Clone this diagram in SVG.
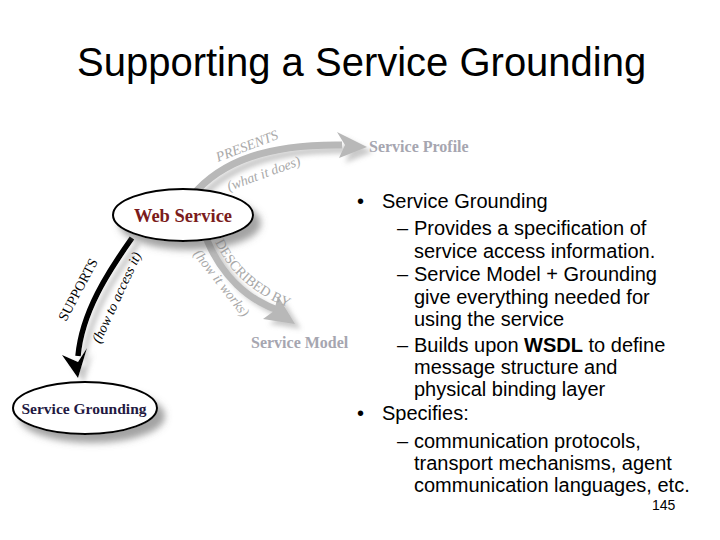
<svg xmlns="http://www.w3.org/2000/svg" width="720" height="540" viewBox="0 0 720 540">
<defs>
<style>
.title{font-family:"Liberation Sans",Arial,sans-serif;font-size:40px;fill:#000}
.body{font-family:"Liberation Sans",Arial,sans-serif;font-size:20px;fill:#000}
.node{fill:#fff;stroke:#000;stroke-width:2}
.nlabel{font-family:"Liberation Serif","Times New Roman",serif;font-weight:bold;text-anchor:middle}
.glabel{font-family:"Liberation Serif","Times New Roman",serif;font-weight:bold;fill:#a6a6b0}
.elab{font-family:"Liberation Serif","Times New Roman",serif;font-size:14px}
.it{font-style:italic}
.gray{fill:#a8a8a8}
.blk{fill:#000}
</style>
<filter id="sh" x="-30%" y="-30%" width="160%" height="180%">
<feGaussianBlur in="SourceAlpha" stdDeviation="3.5"/>
<feOffset dx="7" dy="8" result="b"/>
<feFlood flood-color="#666" flood-opacity="0.6"/>
<feComposite in2="b" operator="in"/>
<feMerge><feMergeNode/><feMergeNode in="SourceGraphic"/></feMerge>
</filter>
<filter id="ash" x="-30%" y="-30%" width="160%" height="160%">
<feGaussianBlur in="SourceAlpha" stdDeviation="2.5"/>
<feOffset dx="6" dy="5" result="b"/>
<feFlood flood-color="#888" flood-opacity="0.45"/>
<feComposite in2="b" operator="in"/>
<feMerge><feMergeNode/><feMergeNode in="SourceGraphic"/></feMerge>
</filter>
<path id="descPath" d="M 215,242 C 229,273 255,295 292,309"/>
</defs>
<rect width="720" height="540" fill="#fff"/>

<text class="title" x="77" y="76">Supporting a Service Grounding</text>

<g id="connectors">
<g id="presents" filter="url(#ash)">
<path d="M 192,196 C 222,160 270,144 342,145" fill="none" stroke="#b8b8b8" stroke-width="7"/>
<polygon points="337,132 367,147 339,158 345,145" fill="#b8b8b8"/>
</g>
<g id="described" filter="url(#ash)">
<path d="M 207,240 C 222,276 248,300 280,311" fill="none" stroke="#b8b8b8" stroke-width="7"/>
<polygon points="278,296 295,324 263,319 274,311" fill="#b8b8b8"/>
</g>
<g id="supports" filter="url(#ash)">
<path d="M 132,238 C 108,272 82,312 78,356" fill="none" stroke="#000" stroke-width="5.5"/>
<polygon points="62,355 78,378 87,348 78,362" fill="#000"/>
</g>
<text class="elab it gray" font-size="15" transform="translate(218,162) rotate(-21)">PRESENTS</text>
<text class="elab it gray" font-size="14" transform="translate(229,191) rotate(-20)">(what it does)</text>
<text class="elab gray" font-size="14"><textPath href="#descPath">DESCRIBED BY</textPath></text>
<text class="elab it gray" font-size="13.5" transform="translate(193,254) rotate(52)">(how it works)</text>
<text class="elab blk" font-size="14" transform="translate(66,322) rotate(-62)">SUPPORTS</text>
<text class="elab it blk" font-size="12.5" transform="translate(100,344) rotate(-65)">(how to access it)</text>
</g>

<g id="web-service">
<ellipse class="node" cx="183" cy="215" rx="70" ry="26" filter="url(#sh)"/>
<text class="nlabel" x="183" y="222" font-size="18.5" fill="#7b1c1c">Web Service</text>
</g>

<g id="service-grounding">
<ellipse class="node" cx="85" cy="408" rx="72" ry="26" filter="url(#sh)"/>
<text class="nlabel" x="84" y="414" font-size="15.5" fill="#231942">Service Grounding</text>
</g>

<g id="service-profile">
<text class="glabel" x="369" y="152" font-size="16">Service Profile</text>
</g>

<g id="service-model">
<text class="glabel" x="251" y="348" font-size="16">Service Model</text>
</g>

<g id="bullets" class="body">
<text x="357" y="208">•</text><text x="382" y="208">Service Grounding</text>
<text x="397" y="235">–</text><text x="414" y="235">Provides a specification of</text>
<text x="414" y="258">service access information.</text>
<text x="397" y="281">–</text><text x="414" y="281">Service Model + Grounding</text>
<text x="414" y="304">give everything needed for</text>
<text x="414" y="326">using the service</text>
<text x="397" y="352">–</text><text x="414" y="352">Builds upon <tspan font-weight="bold">WSDL</tspan> to define</text>
<text x="414" y="374">message structure and</text>
<text x="414" y="396">physical binding layer</text>
<text x="357" y="420">•</text><text x="382" y="420">Specifies:</text>
<text x="397" y="448">–</text><text x="414" y="448">communication protocols,</text>
<text x="414" y="470">transport mechanisms, agent</text>
<text x="414" y="492">communication languages, etc.</text>
<text x="652" y="510" font-size="14">145</text>
</g>
</svg>
